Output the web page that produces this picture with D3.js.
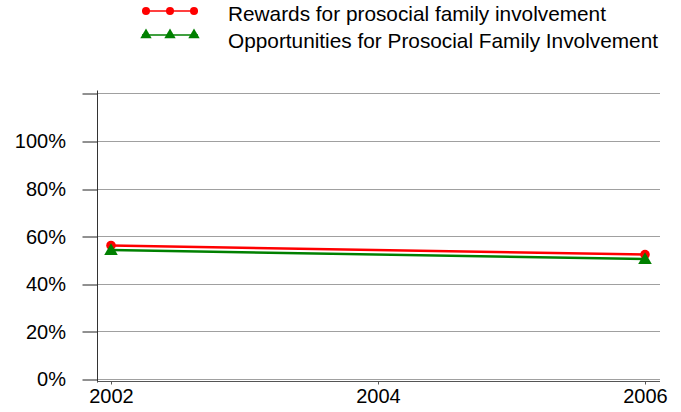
<!DOCTYPE html>
<html>
<head>
<meta charset="utf-8">
<script src="https://cdn.jsdelivr.net/npm/d3@7"></script>
<style>
  body { margin: 0; background: #fff; }
  text { font-family: "Liberation Sans", Arial, sans-serif; }
</style>
</head>
<body>
<div id="line-chart"></div>
<script>
// chart data
const years = [2002, 2006];
const xTicks = [2002, 2004, 2006];
const yTicks = [0, 20, 40, 60, 80, 100, 120];
const rewards = [56.1, 52.3];
const opportunities = [54.2, 50.4];
const seriesNames = [
  "Rewards for prosocial family involvement",
  "Opportunities for Prosocial Family Involvement"
];

const width = 681, height = 412;

const svg = d3.select("#line-chart")
  .append("svg")
    .attr("width", width)
    .attr("height", height);

// scales
const x = d3.scaleLinear().domain([2002, 2006]).range([111, 645]);
const y = d3.scaleLinear().domain([0, 120]).range([379, 93.4]);

// gridlines
svg.append("g")
  .selectAll("line")
  .data(yTicks)
  .join("line")
    .attr("x1", 97).attr("x2", 660)
    .attr("y1", d => Math.round(y(d)) + 0.5)
    .attr("y2", d => Math.round(y(d)) + 0.5)
    .attr("stroke", "#a0a0a0")
    .attr("stroke-width", 1);

// y axis
const yAxis = svg.append("g")
  .attr("transform", "translate(97.5,0.5)")
  .call(d3.axisLeft(y)
    .tickValues(yTicks)
    .tickSize(15)
    .tickSizeOuter(0)
    .tickPadding(16.5)
    .tickFormat(d => d === 120 ? "" : d + "%"));
yAxis.select(".domain").attr("d", "M0,90V382").attr("stroke", "#333");
yAxis.selectAll(".tick line").attr("stroke", "#222")
  .attr("transform", d => "translate(0," + (Math.round(y(d)) - y(d)) + ")");
yAxis.selectAll("text")
  .attr("font-size", "20px")
  .attr("fill", "#000");

// x axis
const xAxis = svg.append("g")
  .attr("transform", "translate(0,381.5)")
  .call(d3.axisBottom(x)
    .tickValues(xTicks)
    .tickSize(3)
    .tickSizeOuter(0)
    .tickPadding(4)
    .tickFormat(d3.format("d")));
xAxis.select(".domain").attr("d", "M97,0H660").attr("stroke", "#555");
xAxis.selectAll(".tick line").attr("stroke", "#555");
xAxis.selectAll("text")
  .attr("font-size", "20px")
  .attr("fill", "#000");

// lines and markers
const line = d3.line()
  .x((d, i) => x(years[i]))
  .y(d => y(d));

const series = [
  { values: rewards, color: "#ff0000", shape: d3.symbolCircle, size: 72 },
  { values: opportunities, color: "#008000", shape: d3.symbolTriangle, size: 80 }
];

series.forEach(s => {
  svg.append("path")
    .datum(s.values)
    .attr("d", line)
    .attr("fill", "none")
    .attr("stroke", s.color)
    .attr("stroke-width", 2.5);
});

series.forEach(s => {
  svg.append("g")
    .selectAll("path")
    .data(s.values)
    .join("path")
      .attr("transform", (d, i) => "translate(" + x(years[i]) + "," + (y(d) + (s.shape === d3.symbolTriangle ? 1 : 0)) + ")")
      .attr("d", d3.symbol().type(s.shape).size(s.size))
      .attr("fill", s.color);
});

// legend
const legend = svg.append("g");
const legendY = [11, 35];
const legendTextY = [14, 40.5];
const legendX = [146, 170, 194];

series.forEach((s, i) => {
  const g = legend.append("g");
  g.append("line")
    .attr("x1", 142).attr("x2", 198)
    .attr("y1", legendY[i]).attr("y2", legendY[i])
    .attr("stroke", s.color)
    .attr("stroke-width", 1.5);
  g.selectAll("path")
    .data(legendX)
    .join("path")
      .attr("transform", d => "translate(" + d + "," + legendY[i] + ")")
      .attr("d", d3.symbol().type(s.shape).size(s.size * 0.7))
      .attr("fill", s.color);
  g.append("text")
    .attr("x", 228)
    .attr("y", legendTextY[i])
    .attr("dy", "0.35em")
    .attr("font-size", "20.8px")
    .attr("fill", "#000")
    .text(seriesNames[i]);
});
</script>
</body>
</html>
